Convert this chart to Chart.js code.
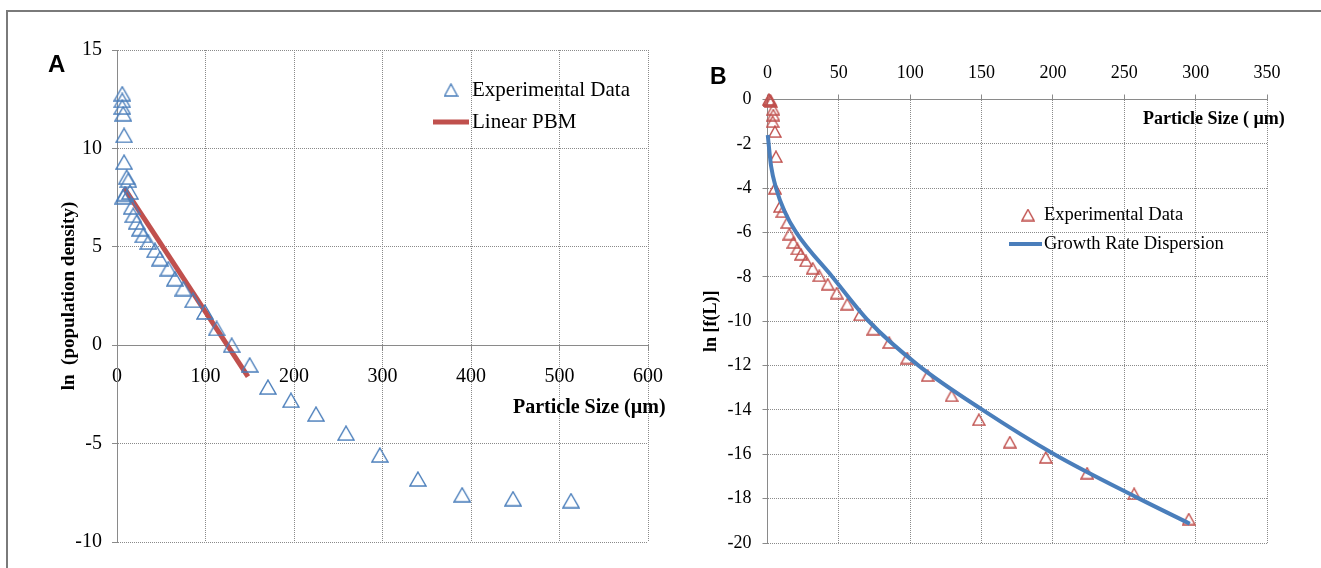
<!DOCTYPE html>
<html>
<head>
<meta charset="utf-8">
<script src="https://cdn.jsdelivr.net/npm/chart.js@4.4.1/dist/chart.umd.min.js"></script>
<style>
  html, body { margin: 0; padding: 0; background: #fff; }
  body { width: 1321px; height: 568px; position: relative; overflow: hidden; }
  .frame { position: absolute; left: 6px; top: 10px; right: -4px; bottom: -4px;
           border-top: 2px solid #7a7a7a; border-left: 2px solid #7a7a7a; }
  canvas { position: absolute; top: 0; }
  #chartA { left: 0; }
  #chartB { left: 690px; }
  .panel { position: absolute; font-family: 'Liberation Sans', Arial, sans-serif; font-weight: bold; }
  .xtitle { position: absolute; font-family: 'Liberation Serif', 'Times New Roman', serif;
            font-weight: bold; white-space: nowrap; color: #000; }
</style>
</head>
<body>
<div class="frame"></div>
<canvas id="chartA" width="690" height="568"></canvas>
<canvas id="chartB" width="631" height="568"></canvas>
<div class="panel" style="left:48px; top:52px; font-size:24px; line-height:24px;">A</div>
<div class="panel" style="left:710px; top:65px; font-size:23px; line-height:23px;">B</div>
<div class="xtitle" style="left:513px; top:396px; font-size:20px; line-height:20px;">Particle Size (µm)</div>
<div class="xtitle" style="left:1143px; top:109px; font-size:18px; line-height:18px;">Particle Size ( µm)</div>
<script>
// panel A - population density
const expA_x = [6, 6, 6, 7, 8, 8, 11, 12.8, 9, 14.7, 7, 16.6, 18.4, 22.2, 26, 29.7, 35.4, 43, 48.6, 58,
  65.5, 75, 86, 99.4, 112.6, 129.6, 150, 170.6, 196.6, 224.9, 258.8, 297, 340, 390, 447.5, 513];
const expA_y = [12.78, 12.44, 12.1, 11.76, 10.66, 9.3, 8.54, 8.38, 7.7, 7.78, 7.55, 7.02, 6.6, 6.26, 5.92, 5.58,
  5.24, 4.82, 4.4, 3.89, 3.38, 2.88, 2.28, 1.69, 0.85, 0, -1.0, -2.13, -2.8, -3.5, -4.47, -5.58, -6.8, -7.6, -7.8, -7.9];
const pbm_x = [8, 148];
const pbm_y = [8.0, -1.6];

// panel B - growth rate dispersion
const expB_x = [1, 1.5, 2, 2.5, 4.1, 4.1, 3.6, 5.25, 5.95, 5.25, 8.75, 10.4, 13.9, 15.3, 18.1, 20.9, 23.5, 27,
  31.7, 36.3, 42.2, 48.5, 55.9, 64.8, 74.1, 85.3, 97.9, 112.2, 129, 148.1, 169.8, 195, 224, 256.9, 295.2];
const expB_y = [0, -0.03, -0.06, -0.1, -0.44, -0.7, -1.0, -1.45, -2.58, -4.0, -4.83, -5.06, -5.55, -6.07, -6.45,
  -6.74, -6.98, -7.28, -7.61, -7.95, -8.33, -8.73, -9.23, -9.71, -10.36, -10.96, -11.66, -12.45, -13.36, -14.44,
  -15.45, -16.14, -16.85, -17.78, -18.92];
const grd_x = [0.2, 0.8, 2.5, 6, 12, 20.2, 45.5, 71, 105.9, 150.7, 200.9, 260.4, 295.9];
const grd_y = [-1.6, -2.0, -3.0, -4.0, -5.05, -6.0, -8.0, -10.0, -12.0, -14.0, -16.0, -18.0, -19.13];

const serif = "'Liberation Serif', 'Times New Roman', serif";
Chart.defaults.font.family = serif;
Chart.defaults.color = '#000';

const toPoints = (xs, ys) => xs.map((x, i) => ({ x: x, y: ys[i] }));

// open triangle marker, centred on its bounding box like Excel does
function triangle(color, w, h, lw) {
  const c = document.createElement('canvas');
  c.width = w + 2;
  c.height = h + 2;
  const g = c.getContext('2d');
  g.strokeStyle = color;
  g.lineWidth = lw;
  g.beginPath();
  g.moveTo(1 + w / 2, 1);
  g.lineTo(1 + w, 1 + h);
  g.lineTo(1, 1 + h);
  g.closePath();
  g.stroke();
  return c;
}

const inlineLegend = {
  id: 'inlineLegend',
  afterDraw(chart, args, opts) {
    const ctx = chart.ctx;
    ctx.save();
    ctx.font = opts.font;
    ctx.fillStyle = '#000';
    ctx.textBaseline = 'middle';
    opts.items.forEach((idx, row) => {
      const ds = chart.data.datasets[idx];
      const y = opts.y + row * opts.rowGap;
      if (ds.showLine) {
        ctx.strokeStyle = ds.borderColor;
        ctx.lineWidth = ds.borderWidth;
        ctx.beginPath();
        ctx.moveTo(opts.lineX0, y);
        ctx.lineTo(opts.lineX1, y);
        ctx.stroke();
      } else {
        const img = opts.marker || ds.pointStyle;
        ctx.drawImage(img, opts.markerX - img.width / 2, y - img.height / 2);
      }
      ctx.fillText(ds.label, opts.textX, y);
    });
    ctx.restore();
  }
};

const gridColor = '#8a8a8a';
const axisColor = '#8a8a8a';

function valueAxis(extra) {
  return Object.assign({
    type: 'linear',
    grid: { color: gridColor, lineWidth: 1, tickLength: 5, tickColor: axisColor },
    border: { color: axisColor, width: 1, dash: [1, 1] }
  }, extra);
}

const blue = '#4A7EBB';
const red = '#C0504D';

new Chart(document.getElementById('chartA'), {
  type: 'scatter',
  data: {
    datasets: [
      {
        label: 'Experimental Data',
        data: toPoints(expA_x, expA_y),
        pointStyle: triangle(blue, 16, 14, 1.4),
        pointRadius: 7,
        clip: false
      },
      {
        label: 'Linear PBM',
        data: toPoints(pbm_x, pbm_y),
        showLine: true,
        borderColor: red,
        borderWidth: 5,
        pointRadius: 0,
        clip: false
      }
    ]
  },
  options: {
    responsive: false,
    animation: false,
    layout: { padding: { left: 54, top: 50, right: 42, bottom: 26 } },
    plugins: {
      legend: { display: false },
      tooltip: { enabled: false },
      inlineLegend: {
        items: [0, 1], y: 90, rowGap: 32, markerX: 451, lineX0: 433, lineX1: 469, textX: 472,
        font: '21px ' + serif, marker: triangle(blue, 13, 12, 1.4)
      }
    },
    scales: {
      x: valueAxis({
        position: { y: 0 },
        min: 0, max: 600,
        ticks: { stepSize: 100, padding: 15, font: { size: 20 }, maxRotation: 0 }
      }),
      y: valueAxis({
        position: 'left',
        min: -10, max: 15,
        ticks: { stepSize: 5, padding: 10, font: { size: 20 } },
        title: { display: true, text: 'ln  (population density)', font: { size: 19, weight: 'bold' }, padding: { top: 4, bottom: 4 } },
        afterFit: (s) => { s.width = 63; }
      })
    }
  },
  plugins: [inlineLegend]
});

new Chart(document.getElementById('chartB'), {
  type: 'scatter',
  data: {
    datasets: [
      {
        label: 'Experimental Data',
        data: toPoints(expB_x, expB_y),
        pointStyle: triangle(red, 12, 11, 1.4),
        pointRadius: 6,
        order: 1,
        clip: false
      },
      {
        label: 'Growth Rate Dispersion',
        data: toPoints(grd_x, grd_y),
        showLine: true,
        borderColor: blue,
        borderWidth: 4,
        pointRadius: 0,
        cubicInterpolationMode: 'monotone',
        order: 0,
        clip: false
      }
    ]
  },
  options: {
    responsive: false,
    animation: false,
    layout: { padding: { left: 7, top: 40, right: 54, bottom: 25 } },
    plugins: {
      legend: { display: false },
      tooltip: { enabled: false },
      inlineLegend: {
        items: [0, 1], y: 215, rowGap: 29, markerX: 338, lineX0: 319, lineX1: 352, textX: 354,
        font: '18.5px ' + serif
      }
    },
    scales: {
      x: valueAxis({
        position: 'top',
        min: 0, max: 350,
        ticks: { stepSize: 50, padding: 10, font: { size: 18 }, maxRotation: 0 },
        afterFit: (s) => { s.height = 59.5; }
      }),
      y: valueAxis({
        position: 'left',
        min: -20, max: 0,
        ticks: { stepSize: 2, padding: 11, font: { size: 18 } },
        title: { display: true, text: 'ln [f(L)]', font: { size: 18, weight: 'bold' }, padding: { top: 4, bottom: 4 } },
        afterFit: (s) => { s.width = 70.5; }
      })
    }
  },
  plugins: [inlineLegend]
});
</script>
</body>
</html>
